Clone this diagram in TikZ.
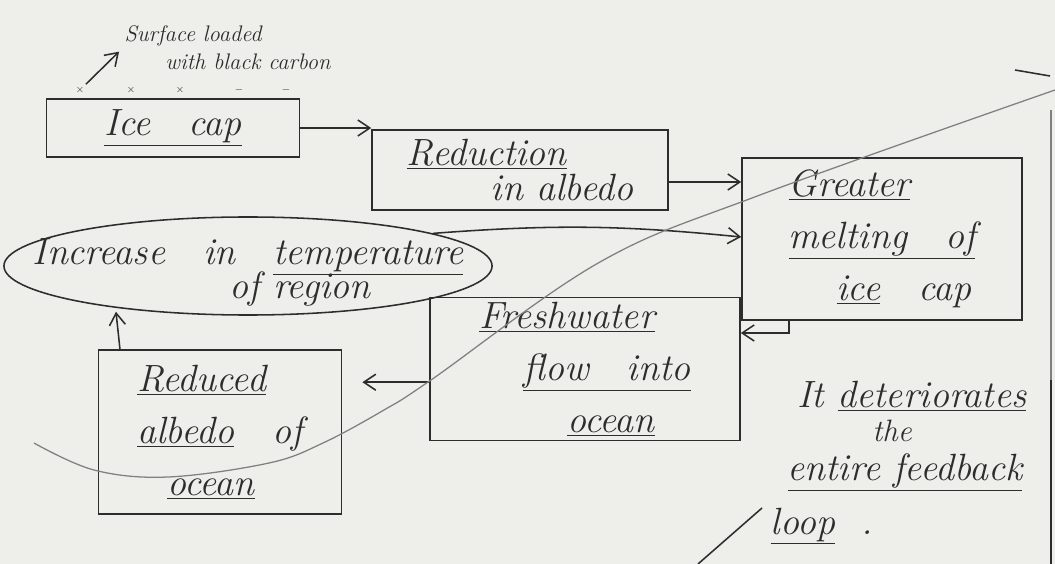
\documentclass[tikz,border=0pt]{standalone}
\usetikzlibrary{arrows.meta,positioning,shapes.geometric}
\definecolor{paper}{RGB}{238,238,235}
\definecolor{ink}{RGB}{45,45,45}

\begin{document}
\begin{tikzpicture}[
        x=0.025cm, y=-0.025cm,
        ink, line width=1.1pt,
        font=\itshape\fontsize{27}{37}\selectfont,
        box/.style={draw, align=left},
        blob/.style={draw, ellipse, inner sep=0pt},
        note/.style={font=\itshape\fontsize{16}{20}\selectfont},
        arrow/.style={-{Straight Barb[length=3mm,width=4mm]}},
        speck/.style={font=\scriptsize, inner sep=1pt}
        ]
        % --- paper (fixes the margins) ---
        \fill[paper] (0,0) rectangle (1055,564);
        \useasboundingbox (0,0) rectangle (1055,564);

        % Top row
        \node[box, minimum width=6.33cm, minimum height=1.45cm] (ice) at (173,128) {\underline{Ice\quad cap}};
        \node[box, minimum width=7.4cm, minimum height=2.0cm] (red) at (520,170) {\underline{Reduction}\\[-12pt]\hspace{2.1cm}in albedo};
        \node[box, minimum width=7.0cm, minimum height=4.05cm] (grt) at (882,239) {\underline{Greater}\\\underline{melting\quad of}\\\hspace{1.2cm}\underline{ice}\quad cap};

        % Black carbon on the ice cap
        \node[note] (surf1) at (193,36) {Surface loaded};
        \node[note] (surf2) at (248,62) {with black carbon};
        \foreach \x/\s [count=\i] in {80/\times, 131/\times, 180/\times, 239/-, 286/-}
            \node[speck] (m\i) at (\x,90) {$\s$};

        % Middle and bottom rows
        \node[blob, minimum width=12.2cm, minimum height=2.45cm] (temp) at (248,266) {};
        \node (tempA) at (248,257) {Increase\quad in\quad \underline{temperature}};
        \node (tempB) at (300,289) {of region};
        \node[box, minimum width=7.75cm, minimum height=3.55cm] (fresh) at (585,369) {\underline{Freshwater}\\\hspace{1.1cm}\underline{flow\quad into}\\\hspace{2.2cm}\underline{ocean}};
        \node[box, minimum width=6.08cm, minimum height=4.1cm] (redu) at (220,432) {\underline{Reduced}\\\underline{albedo}\quad of\\\hspace{0.75cm}\underline{ocean}};

        % Note at the bottom right
        \node[inner sep=1pt] (rem1) at (912,396) {It \underline{deteriorates}};
        \node[inner sep=1pt, font=\itshape\fontsize{22}{26}\selectfont] (rem2) at (892,431) {the};
        \node[inner sep=1pt] (rem3) at (905,472) {\underline{entire feedback}};
        \node[inner sep=1pt] (rem4) at (822,526) {\underline{loop}\ \ .};
        \coordinate (tailA) at (698,564);
        \coordinate (tailB) at (762,508);

        % Arrows
        \draw[arrow] (m1) -- (surf1.south west);
        \draw[arrow] (ice.east) -- (ice.east -| red.west);
        \draw[arrow] ([yshift=-0.3cm]red.east) -- ([yshift=-0.3cm]red.east -| grt.west);
        \draw[arrow] (temp.10) to[bend left=5] ([yshift=0.05cm]grt.west);
        \draw[arrow] ([xshift=1.2cm]grt.south west) |- ([yshift=0.9cm]fresh.east);
        \draw[arrow, shorten >=0.5cm] ([yshift=-0.33cm]fresh.west) -- ([yshift=-0.33cm]fresh.west -| redu.east);
        \draw[arrow] ([xshift=-2.5cm]redu.north) -- ([xshift=-2.6cm, yshift=0.1cm]redu.north |- temp.south);

        % Strokes across the sheet
        \draw (tailA) -- (tailB);
        \draw (1015,70) -- (1050,76);
        \draw[gray, line width=0.8pt] (1051,110) -- (1051,380);
        \draw (1051,380) -- (1051,564);
        \draw[gray, line width=0.9pt] plot[smooth, tension=0.6] coordinates
            {(34,443) (94,470) (168,477) (269,463) (323,443) (384,410) (431,380) (600,262) (760,195) (1055,90)};
    \end{tikzpicture}
\end{document}
